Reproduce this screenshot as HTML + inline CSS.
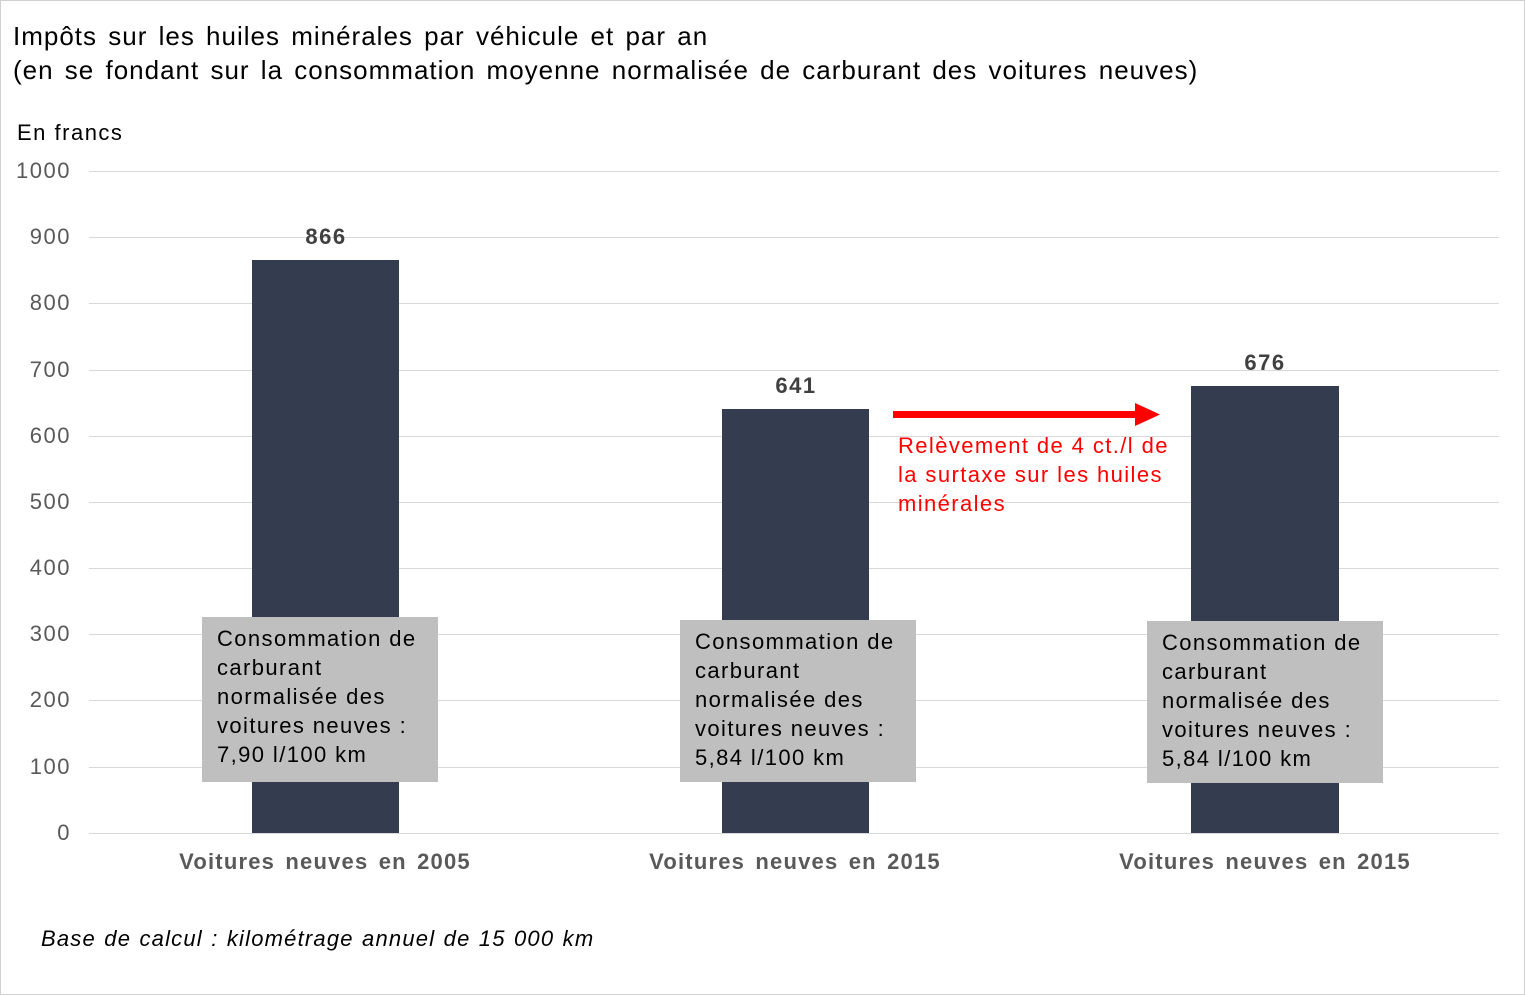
<!DOCTYPE html>
<html><head><meta charset="utf-8"><style>
body{margin:0;background:#fff}
#c{position:relative;width:1525px;height:995px;overflow:hidden;font-family:"Liberation Sans",Arial,sans-serif;box-sizing:border-box;border:1px solid #d0d0d0}
.a{position:absolute;white-space:nowrap}
.g{position:absolute;left:88px;width:1410px;height:1px;background:#d9d9d9}
.t{position:absolute;left:0;width:70px;text-align:right;font-size:22px;color:#595959;letter-spacing:1.5px}
.bar{position:absolute;background:#333d4f}
.box{position:absolute;background:#bfbfbf;font-size:22px;line-height:29px;color:#000;padding:7px 0 0 15px;box-sizing:border-box;letter-spacing:1.4px;white-space:nowrap}
.v{position:absolute;font-size:22px;font-weight:bold;color:#404040;width:150px;text-align:center;letter-spacing:1.5px}
.cat{position:absolute;font-size:22px;font-weight:bold;color:#595959;width:400px;text-align:center;top:848px;letter-spacing:1.2px;word-spacing:3px}
</style></head><body><div id="c">
<div class="a" style="left:12px;top:18px;font-size:26px;line-height:34px;color:#000;letter-spacing:1px;word-spacing:3px">Impôts sur les huiles minérales par véhicule et par an<br>(en se fondant sur la consommation moyenne normalisée de carburant des voitures neuves)</div>
<div class="a" style="left:16px;top:119px;font-size:22px;color:#000;letter-spacing:1.5px">En francs</div>
<div class="g" style="top:170px"></div><div class="g" style="top:236px"></div><div class="g" style="top:302px"></div><div class="g" style="top:369px"></div><div class="g" style="top:435px"></div><div class="g" style="top:501px"></div><div class="g" style="top:567px"></div><div class="g" style="top:633px"></div><div class="g" style="top:699px"></div><div class="g" style="top:766px"></div><div class="g" style="top:832px"></div>
<div class="t" style="top:157px">1000</div><div class="t" style="top:223px">900</div><div class="t" style="top:289px">800</div><div class="t" style="top:356px">700</div><div class="t" style="top:422px">600</div><div class="t" style="top:488px">500</div><div class="t" style="top:554px">400</div><div class="t" style="top:620px">300</div><div class="t" style="top:686px">200</div><div class="t" style="top:753px">100</div><div class="t" style="top:819px">0</div>
<div class="bar" style="left:251px;top:259px;width:147px;height:573px"></div>
<div class="bar" style="left:721px;top:408px;width:147px;height:424px"></div>
<div class="bar" style="left:1190px;top:385px;width:148px;height:447px"></div>
<div class="v" style="left:250px;top:223px">866</div>
<div class="v" style="left:720px;top:372px">641</div>
<div class="v" style="left:1189px;top:349px">676</div>
<div class="box" style="left:201px;top:616px;width:236px;height:165px">Consommation de<br>carburant<br>normalisée des<br>voitures neuves :<br>7,90 l/100 km</div>
<div class="box" style="left:679px;top:619px;width:236px;height:162px">Consommation de<br>carburant<br>normalisée des<br>voitures neuves :<br>5,84 l/100 km</div>
<div class="box" style="left:1146px;top:620px;width:236px;height:162px">Consommation de<br>carburant<br>normalisée des<br>voitures neuves :<br>5,84 l/100 km</div>
<svg class="a" style="left:0;top:0" width="1525" height="995"><rect x="892" y="410" width="244" height="7" fill="#ff0000"/><polygon points="1134,402 1159,413.5 1134,425" fill="#ff0000"/></svg>
<div class="a" style="left:897px;top:430px;font-size:22px;line-height:29px;color:#ff0000;letter-spacing:1.4px">Relèvement de 4 ct./l de<br>la surtaxe sur les huiles<br>minérales</div>
<div class="cat" style="left:124px">Voitures neuves en 2005</div>
<div class="cat" style="left:594px">Voitures neuves en 2015</div>
<div class="cat" style="left:1064px">Voitures neuves en 2015</div>
<div class="a" style="left:40px;top:925px;font-size:22px;font-style:italic;color:#000;letter-spacing:1.2px;word-spacing:1px">Base de calcul : kilométrage annuel de 15 000 km</div>
</div></body></html>
